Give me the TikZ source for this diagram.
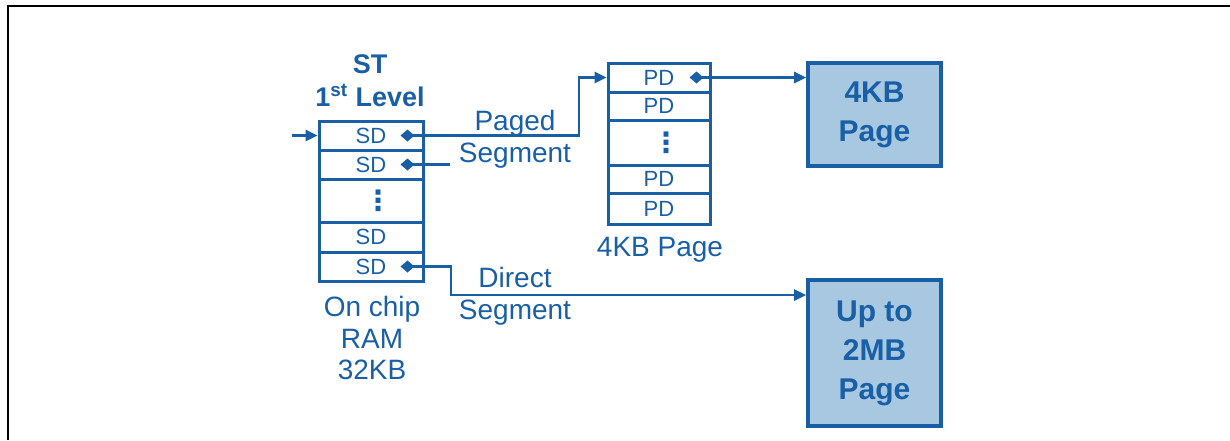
\documentclass[tikz,border=0pt]{standalone}
\usepackage{fontspec}
\setmainfont{Liberation Sans}
\newfontfamily\dotsfont{DejaVu Sans}
\usepackage{tikz}
\usetikzlibrary{arrows.meta,positioning,calc}
\definecolor{segblue}{RGB}{25,95,165}
\definecolor{pagefill}{RGB}{168,200,226}
\newcommand{\rowdots}{\hspace*{7pt}{\dotsfont\bfseries\fontsize{14}{14}\selectfont ⋮}}

\begin{document}
\begin{tikzpicture}[x=0.5pt,y=-0.5pt,
  every node/.style={text=segblue,font=\fontsize{14}{16}\selectfont},
  row/.style={draw=segblue,line width=1.5pt,minimum width=52pt,inner sep=0pt,
    font=\fontsize{11}{12}\selectfont},
  pg/.style={draw=segblue,line width=1.8pt,fill=pagefill,minimum width=66.5pt,
    inner sep=0pt,align=center,font=\bfseries\fontsize{15}{19.5}\selectfont},
  lbl/.style={align=center,inner sep=0pt},
  lnk/.style={draw=segblue,line width=1.3pt},
  dia/.style={{Diamond[length=7pt,width=6pt]}-},
  tip/.style={-{Triangle[length=6pt,width=5.5pt]}},
  diatip/.style={{Diamond[length=7pt,width=6pt]}-{Triangle[length=6pt,width=5.5pt]}}]
 \useasboundingbox (0,0) rectangle (1230,440);
 \draw[black,line width=1pt] (7.5,440) -- (7.5,6) -- (1230,6);
 % segment table (ST)
 \foreach \n/\y/\h/\t in {1/135.5/14.5/SD,2/164.5/14.5/SD,3/200.5/21.5/\rowdots,4/237/15/SD,5/266.5/14.5/SD}
   \node[row,minimum height=\h pt] (s\n) at (371,\y) {\t};
 \node[lbl,font=\bfseries\fontsize{13.5}{16.5}\selectfont] (st) at (370,81) {ST\\1\textsuperscript{st} Level};
 \node[lbl,font=\fontsize{14}{15.75}\selectfont] (ram) at (372,338) {On chip\\RAM\\32KB};
 % page table (PD)
 \foreach \n/\y/\h/\t in {1/77.5/14.5/PD,2/106/14/PD,3/142.5/22.5/\rowdots,4/179/14/PD,5/208.5/15.5/PD}
   \node[row,minimum width=51pt,minimum height=\h pt] (p\n) at (659,\y) {\t};
 \node[lbl] (pdcap) at (660,250) {4KB Page};
 % pages
 \node[pg,minimum height=51.5pt] (small) at (874.5,114.5) {4KB\\Page};
 \node[pg,minimum height=73pt] (big) at (874.5,353) {Up to\\2MB\\Page};
 % labels
 \node[lbl] (paged) at (515,139) {Paged\\Segment};
 \node[lbl] (direct) at (515,296) {Direct\\Segment};
 % connectors
 \coordinate (in) at (292,135.5);
 \coordinate (d1) at ($(s1.east)+(-24,0)$);
 \coordinate (d2) at ($(s2.east)+(-24,0)$);
 \coordinate (d5) at ($(s5.east)+(-24,0)$);
 \coordinate (d6) at ($(p1.east)+(-22,0)$);
 \coordinate (up) at (579,77.5);
 \coordinate (loose) at (450,164.5);
 \coordinate (down) at (451,295);
 \draw[lnk,tip] (in) -- (s1.west);
 \draw[lnk,diatip] (d1) -| (up) -- (p1.west);
 \draw[lnk,dia] (d2) -- (loose);
 \draw[lnk,diatip] (d5) -| (down) -- (down -| big.west);
 \draw[lnk,diatip] (d6) -- (d6 -| small.west);
\end{tikzpicture}
\end{document}
